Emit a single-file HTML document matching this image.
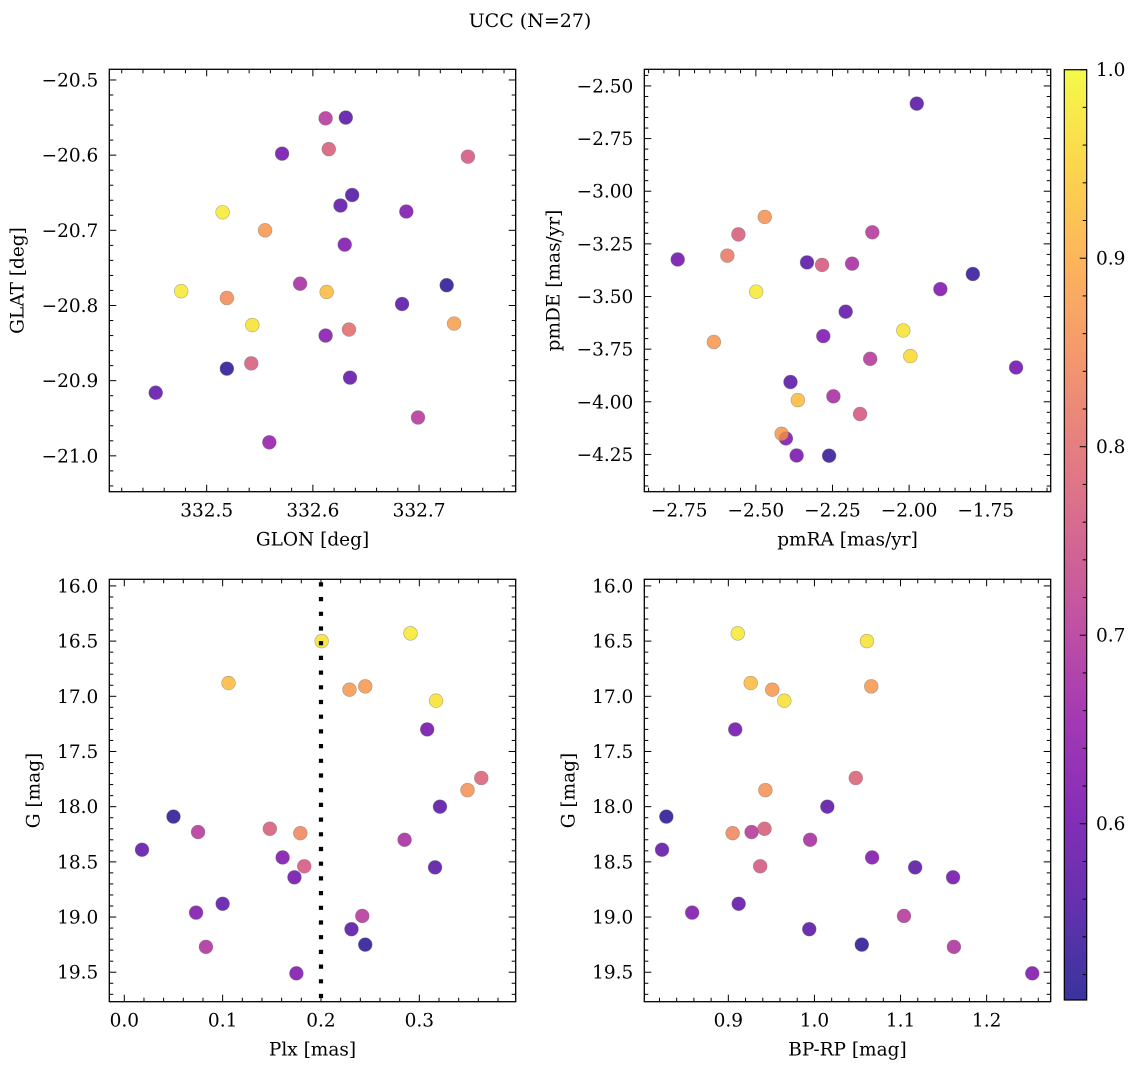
<!DOCTYPE html>
<html><head><meta charset="utf-8"><style>
html,body{margin:0;padding:0;background:#fff;}
svg text{font-family:"DejaVu Serif","Liberation Serif",serif;fill:#000;}
</style></head><body>
<svg id="fig" width="1136" height="1068" viewBox="0 0 1136 1068" xmlns="http://www.w3.org/2000/svg">
<defs>
<linearGradient id="cbgrad" x1="0" y1="1" x2="0" y2="0">
<stop offset="0" stop-color="#0d0887"/><stop offset="0.1" stop-color="#41049d"/><stop offset="0.2" stop-color="#6a00a8"/><stop offset="0.3" stop-color="#8f0da4"/><stop offset="0.4" stop-color="#b12a90"/><stop offset="0.5" stop-color="#cc4778"/><stop offset="0.6" stop-color="#e16462"/><stop offset="0.7" stop-color="#f2844b"/><stop offset="0.8" stop-color="#fca636"/><stop offset="0.9" stop-color="#fcce25"/><stop offset="1" stop-color="#f0f921"/>
</linearGradient>
</defs>
<text x="530" y="27" font-size="19" text-anchor="middle">UCC (N=27)</text>
</svg>
<script>
// ---- data ----
const glon = [332.612,332.631,332.571,332.615,332.746,332.637,332.626,332.515,332.688,332.555,332.630,332.476,332.588,332.613,332.726,332.519,332.684,332.543,332.634,332.733,332.612,332.542,332.519,332.635,332.452,332.699,332.559];
const glat = [-20.551,-20.550,-20.598,-20.592,-20.602,-20.653,-20.667,-20.676,-20.675,-20.700,-20.719,-20.781,-20.771,-20.782,-20.773,-20.790,-20.798,-20.826,-20.832,-20.824,-20.840,-20.877,-20.884,-20.896,-20.916,-20.949,-20.982];
const probPos = [0.70,0.57,0.60,0.77,0.76,0.56,0.58,0.98,0.62,0.87,0.62,0.98,0.68,0.92,0.52,0.85,0.57,0.97,0.80,0.88,0.63,0.77,0.52,0.58,0.58,0.70,0.65];

const pmra = [-1.975,-2.755,-2.471,-2.557,-2.593,-2.120,-2.333,-2.284,-2.186,-1.792,-2.499,-1.898,-2.207,-2.280,-2.019,-1.996,-2.637,-2.127,-1.651,-2.387,-2.247,-2.363,-2.160,-2.416,-2.402,-2.367,-2.261];
const pmde = [-2.584,-3.324,-3.122,-3.205,-3.306,-3.195,-3.338,-3.350,-3.344,-3.393,-3.477,-3.465,-3.572,-3.688,-3.661,-3.783,-3.716,-3.796,-3.837,-3.906,-3.974,-3.992,-4.058,-4.152,-4.174,-4.255,-4.256];
const probPm = [0.57,0.60,0.86,0.77,0.82,0.70,0.57,0.76,0.68,0.53,0.98,0.62,0.58,0.62,0.97,0.96,0.87,0.70,0.60,0.57,0.68,0.92,0.76,0.87,0.62,0.61,0.53];

const gmag = [16.43,16.50,16.88,16.94,16.91,17.04,17.30,17.74,17.85,18.09,18.00,18.24,18.23,18.20,18.39,18.30,18.46,18.54,18.55,18.64,18.96,18.88,18.99,19.11,19.25,19.27,19.51];
const bprp = [0.911,1.061,0.926,0.951,1.066,0.965,0.908,1.048,0.943,0.828,1.015,0.905,0.927,0.942,0.823,0.995,1.067,0.937,1.117,1.161,0.858,0.912,1.104,0.994,1.055,1.162,1.253];
const plx = [0.291,0.2007,0.106,0.229,0.245,0.317,0.308,0.363,0.349,0.050,0.321,0.179,0.075,0.148,0.018,0.285,0.161,0.183,0.316,0.173,0.073,0.100,0.242,0.231,0.245,0.083,0.175];
const probPhot = [0.98,0.97,0.92,0.87,0.87,0.97,0.60,0.78,0.86,0.52,0.57,0.84,0.70,0.77,0.58,0.68,0.62,0.76,0.57,0.60,0.62,0.58,0.70,0.57,0.52,0.69,0.62];
const plxLine = 0.2;

const cbTicks = [0.6,0.7,0.8,0.9,1.0];
const cbMin = 0.5065, cbMax = 1.0;

// ---- helpers ----
const NS = "http://www.w3.org/2000/svg";
const svg = document.getElementById('fig');
const FS = 18.5;
function el(tag, attrs, parent){ const e=document.createElementNS(NS,tag); for(const k in attrs) e.setAttribute(k,attrs[k]); (parent||svg).appendChild(e); return e; }
const stops=[[13,8,135],[65,4,157],[106,0,168],[143,13,164],[177,42,144],[204,71,120],[225,100,98],[242,132,75],[252,166,54],[252,206,37],[240,249,33]];
function plasma(p){ let t=(p-cbMin)/(cbMax-cbMin); t=Math.max(0,Math.min(1,t)); const f=t*10; const i=Math.min(9,Math.floor(f)); const r=f-i; const a=stops[i],b=stops[i+1]; return 'rgb('+[0,1,2].map(k=>Math.round(a[k]+(b[k]-a[k])*r)).join(',')+')'; }
function fmt(v,d){ const s=Math.abs(v).toFixed(d); return (v<-1e-9?'\u2212':'')+s; }

function panel(cfg){
  const g=el('g',{});
  
  
  const sx=v=>cfg.x0+(v-cfg.xl[0])/(cfg.xl[1]-cfg.xl[0])*(cfg.x1-cfg.x0);
  const sy=v=>cfg.y0+(v-cfg.yl[0])/(cfg.yl[1]-cfg.yl[0])*(cfg.y1-cfg.y0);
  function range(a,b,s){ const out=[]; for(let v=a; v<=b+s*1e-6; v+=s) out.push(+v.toFixed(6)); return out; }
  const xmin=Math.min(...cfg.xl), xmax=Math.max(...cfg.xl), ymin=Math.min(...cfg.yl), ymax=Math.max(...cfg.yl);
  const xminor=range(Math.ceil(xmin/cfg.xm-1e-6)*cfg.xm, xmax, cfg.xm);
  const yminor=range(Math.ceil(ymin/cfg.ym-1e-6)*cfg.ym, ymax, cfg.ym);
  const isMaj=(v,s)=>Math.abs(v/s-Math.round(v/s))<1e-4;
  xminor.forEach(v=>{ const L=isMaj(v,cfg.xM)?7:4; const x=sx(v);
    el('line',{x1:x,x2:x,y1:cfg.y1,y2:cfg.y1-L,stroke:'#000','stroke-width':1},g);
    el('line',{x1:x,x2:x,y1:cfg.y0,y2:cfg.y0+L,stroke:'#000','stroke-width':1},g);
    if(isMaj(v,cfg.xM)){ const t=el('text',{x:x,y:cfg.y1+25,'font-size':FS,'text-anchor':'middle'},g); t.textContent=fmt(v,cfg.xd);
        }
  });
  yminor.forEach(v=>{ const L=isMaj(v,cfg.yM)?7:4; const y=sy(v);
    el('line',{x1:cfg.x0,x2:cfg.x0+L,y1:y,y2:y,stroke:'#000','stroke-width':1},g);
    el('line',{x1:cfg.x1,x2:cfg.x1-L,y1:y,y2:y,stroke:'#000','stroke-width':1},g);
    if(isMaj(v,cfg.yM)){ const t=el('text',{x:cfg.x0-11,y:y+6.5,'font-size':FS,'text-anchor':'end'},g); t.textContent=fmt(v,cfg.yd);
        }
  });
  const idx=cfg.xs.map((_,i)=>i).sort((a,b)=>cfg.ps[a]-cfg.ps[b]);
  idx.forEach(i=>{ const c=el('circle',{cx:sx(cfg.xs[i]),cy:sy(cfg.ys[i]),r:6.9,fill:plasma(cfg.ps[i]),'fill-opacity':0.82,stroke:'#6e6e6e','stroke-opacity':0.55,'stroke-width':0.6},g);
    
     });
  if(cfg.vline!==undefined){ const x=sx(cfg.vline);
    const l=el('line',{x1:x,x2:x,y1:cfg.y0+3,y2:cfg.y1,stroke:'#000','stroke-width':4.2,'stroke-dasharray':'4.2 10.5'},g);
    
     }
  const fr=el('rect',{x:cfg.x0,y:cfg.y0,width:cfg.x1-cfg.x0,height:cfg.y1-cfg.y0,fill:'none',stroke:'#000','stroke-width':1.3},g);
  
  
  const xl=el('text',{x:(cfg.x0+cfg.x1)/2,y:cfg.y1+54,'font-size':FS,'text-anchor':'middle'},g); xl.textContent=cfg.xlab;
  
  
  const ycx=cfg.ylx, ycy=(cfg.y0+cfg.y1)/2;
  const yl=el('text',{x:ycx,y:ycy,'font-size':FS,'text-anchor':'middle',transform:'rotate(-90 '+ycx+' '+ycy+')',dy:'0.35em'},g); yl.textContent=cfg.ylab;
  
  
}

panel({name:'glon-glat-panel',x0:109.3,x1:515.7,y0:69.3,y1:491.7,xl:[332.4083,332.791],yl:[-20.4858,-21.0477],xM:0.1,xm:0.02,yM:0.1,ym:0.02,xd:1,yd:1,xs:glon,ys:glat,ps:probPos,xlab:'GLON [deg]',ylab:'GLAT [deg]',ylx:17});
panel({name:'pm-panel',x0:644.3,x1:1050.7,y0:69.3,y1:491.7,xl:[-2.864,-1.538],yl:[-2.421,-4.427],xM:0.25,xm:0.05,yM:0.25,ym:0.05,xd:2,yd:2,xs:pmra,ys:pmde,ps:probPm,xlab:'pmRA [mas/yr]',ylab:'pmDE [mas/yr]',ylx:553});
panel({name:'plx-g-panel',x0:109.3,x1:515.7,y0:579.3,y1:1001.7,xl:[-0.01525,0.398],yl:[15.94,19.767],xM:0.1,xm:0.02,yM:0.5,ym:0.1,xd:1,yd:1,xs:plx,ys:gmag,ps:probPhot,vline:plxLine,xlab:'Plx [mas]',ylab:'G [mag]',ylx:33});
panel({name:'cmd-panel',x0:644.3,x1:1050.7,y0:579.3,y1:1001.7,xl:[0.8024,1.2744],yl:[15.94,19.767],xM:0.1,xm:0.02,yM:0.5,ym:0.1,xd:1,yd:1,xs:bprp,ys:gmag,ps:probPhot,xlab:'BP-RP [mag]',ylab:'G [mag]',ylx:568});

// colorbar
const cb=el('g',{});


const cbx0=1064.3,cbx1=1086.7,cby0=69.7,cby1=1000;
const cy=v=>cby1-(v-cbMin)/(cbMax-cbMin)*(cby1-cby0);
el('rect',{x:cbx0,y:cby0,width:cbx1-cbx0,height:cby1-cby0,fill:'url(#cbgrad)','fill-opacity':0.82},cb);
for(let v=0.52; v<=1.0001; v+=0.02){ const vv=+v.toFixed(2); const maj=cbTicks.some(t=>Math.abs(t-vv)<1e-6); const y=cy(vv);
  el('line',{x1:cbx1,x2:cbx1-(maj?7:4),y1:y,y2:y,stroke:'#000','stroke-width':1},cb); }
cbTicks.forEach(v=>{ const t=el('text',{x:1096,y:cy(v)+6.5,'font-size':FS},cb); t.textContent=v.toFixed(1);
  
   });
el('rect',{x:cbx0,y:cby0,width:cbx1-cbx0,height:cby1-cby0,fill:'none',stroke:'#000','stroke-width':1.2},cb);
</script>
</body></html>
